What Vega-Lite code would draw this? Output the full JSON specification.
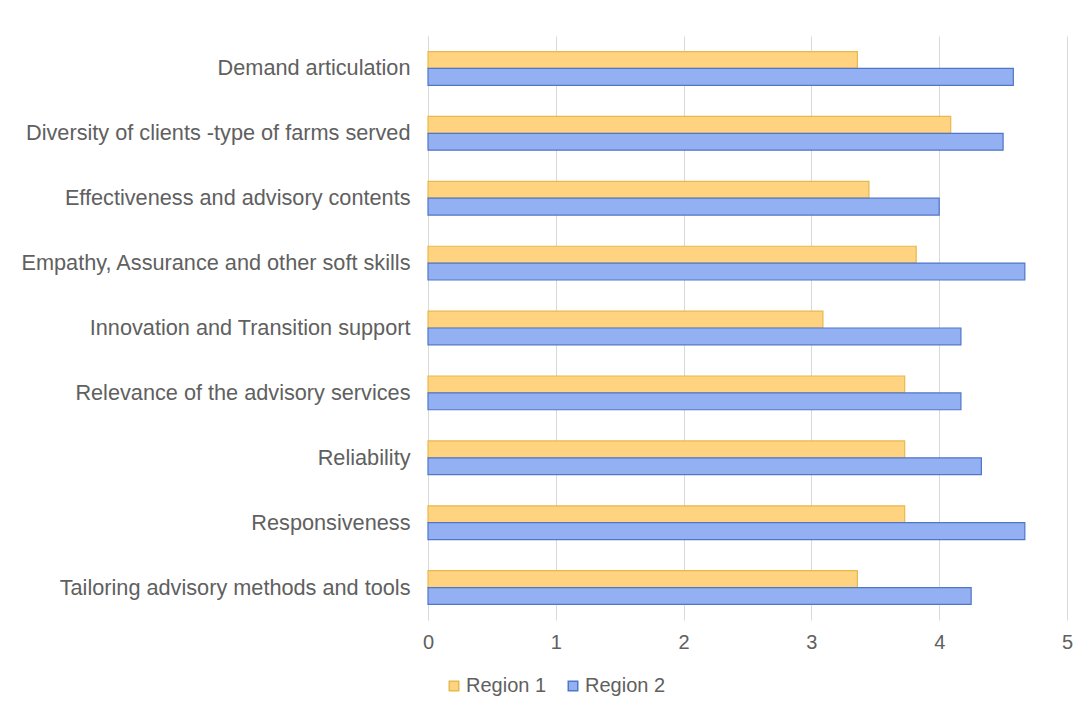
{
  "$schema": "https://vega.github.io/schema/vega-lite/v6.json",
  "width": 639,
  "height": 584,
  "autosize": "none",
  "padding": {"left": 428, "top": 36, "right": 20, "bottom": 93},
  "background": "white",
  "config": {
    "view": {"stroke": null},
    "font": "Liberation Sans",
    "axis": {"labelFont": "Liberation Sans", "labelColor": "#606060"},
    "legend": {"labelFont": "Liberation Sans", "labelColor": "#606060"}
  },
  "data": {
    "values": [
      {"category": "Demand articulation", "region": "Region 1", "value": 3.36},
      {"category": "Demand articulation", "region": "Region 2", "value": 4.58},
      {"category": "Diversity of clients -type of farms served ", "region": "Region 1", "value": 4.09},
      {"category": "Diversity of clients -type of farms served ", "region": "Region 2", "value": 4.5},
      {"category": "Effectiveness and advisory contents", "region": "Region 1", "value": 3.45},
      {"category": "Effectiveness and advisory contents", "region": "Region 2", "value": 4.0},
      {"category": "Empathy, Assurance and other soft skills", "region": "Region 1", "value": 3.82},
      {"category": "Empathy, Assurance and other soft skills", "region": "Region 2", "value": 4.67},
      {"category": "Innovation and Transition support", "region": "Region 1", "value": 3.09},
      {"category": "Innovation and Transition support", "region": "Region 2", "value": 4.17},
      {"category": "Relevance of the advisory services", "region": "Region 1", "value": 3.73},
      {"category": "Relevance of the advisory services", "region": "Region 2", "value": 4.17},
      {"category": "Reliability", "region": "Region 1", "value": 3.73},
      {"category": "Reliability", "region": "Region 2", "value": 4.33},
      {"category": "Responsiveness ", "region": "Region 1", "value": 3.73},
      {"category": "Responsiveness ", "region": "Region 2", "value": 4.67},
      {"category": "Tailoring advisory methods and tools", "region": "Region 1", "value": 3.36},
      {"category": "Tailoring advisory methods and tools", "region": "Region 2", "value": 4.25}
    ]
  },
  "mark": {"type": "bar", "strokeWidth": 1.2},
  "encoding": {
    "y": {
      "field": "category",
      "type": "nominal",
      "sort": null,
      "title": null,
      "scale": {"paddingInner": 0.48, "paddingOuter": 0.24},
      "axis": {
        "labelFontSize": 21.7,
        "labelPadding": 18,
        "ticks": false,
        "domainColor": "#d9d9d9",
        "labelLimit": 430
      }
    },
    "yOffset": {
      "field": "region",
      "type": "nominal",
      "sort": "ascending",
      "scale": {"paddingInner": 0, "paddingOuter": 0}
    },
    "x": {
      "field": "value",
      "type": "quantitative",
      "title": null,
      "scale": {"domain": [0, 5], "nice": false},
      "axis": {
        "values": [0, 1, 2, 3, 4, 5],
        "format": "d",
        "labelFontSize": 20,
        "labelPadding": 12,
        "labelFlush": false,
        "ticks": false,
        "domain": false,
        "gridColor": "#d9d9d9",
        "gridWidth": 1
      }
    },
    "fill": {
      "field": "region",
      "type": "nominal",
      "title": null,
      "scale": {"domain": ["Region 1", "Region 2"], "range": ["#FFD37F", "#93B1F2"]},
      "legend": {
        "orient": "none",
        "direction": "horizontal",
        "legendX": 16,
        "legendY": 640,
        "symbolType": "square",
        "symbolSize": 90,
        "labelFontSize": 20,
        "labelOffset": 2,
        "columnPadding": 16,
        "symbolOffset": 0
      }
    },
    "stroke": {
      "field": "region",
      "type": "nominal",
      "title": null,
      "scale": {"domain": ["Region 1", "Region 2"], "range": ["#E6B94C", "#4F76C8"]}
    }
  }
}
